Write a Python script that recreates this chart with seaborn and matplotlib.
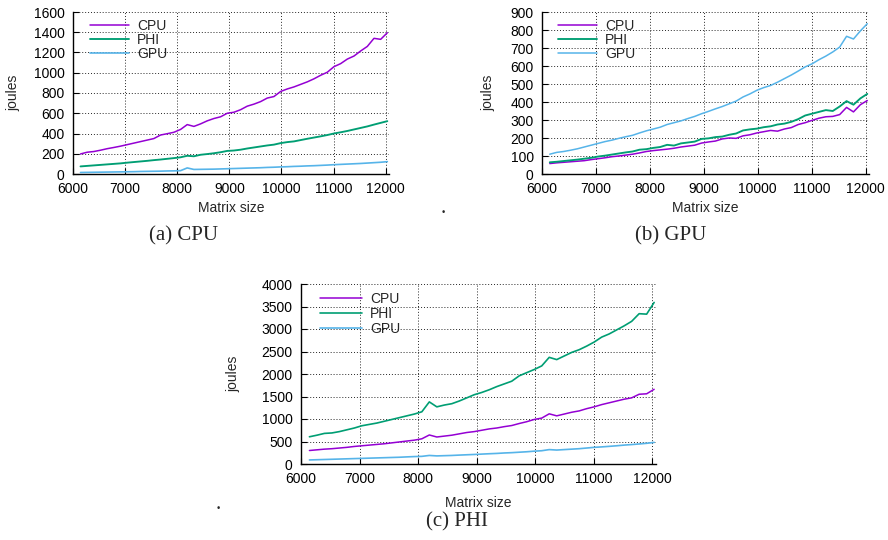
import matplotlib
matplotlib.use("Agg")
import matplotlib.pyplot as plt
import seaborn as sns

# ---------------- data (joules per matrix size) ----------------
SIZES = [6144, 6272, 6400, 6528, 6656, 6784, 6912, 7040, 7168, 7296, 7424, 7552,
         7680, 7808, 7936, 8064, 8192, 8320, 8448, 8576, 8704, 8832, 8960, 9088,
         9216, 9344, 9472, 9600, 9728, 9856, 9984, 10112, 10240, 10368, 10496,
         10624, 10752, 10880, 11008, 11136, 11264, 11392, 11520, 11648, 11776,
         11904, 12032]

# (a) run on CPU
A_CPU = [198, 215, 222, 235, 250, 262, 275, 290, 305, 320, 335, 350, 385, 398, 412, 440,
         488, 470, 495, 525, 548, 565, 600, 610, 635, 670, 690, 715, 750, 765, 815, 840,
         860, 885, 910, 940, 975, 1005, 1060, 1090, 1135, 1165, 1215, 1260, 1340, 1330, 1395]
A_PHI = [75, 80, 85, 90, 95, 100, 105, 112, 118, 124, 130, 137, 143, 150, 157, 165,
         180, 175, 190, 197, 205, 215, 228, 232, 240, 252, 262, 272, 282, 290, 305, 315,
         322, 335, 348, 360, 372, 385, 400, 412, 425, 440, 455, 470, 488, 505, 522]
A_GPU = [15, 16, 17, 18, 19, 20, 21, 22, 23, 25, 26, 27, 28, 30, 31, 33,
         60, 45, 46, 47, 48, 50, 52, 54, 56, 58, 60, 62, 65, 67, 70, 72,
         75, 77, 80, 82, 85, 88, 92, 95, 98, 101, 104, 108, 112, 116, 122]

# (b) run on GPU
B_CPU = [58, 62, 65, 68, 71, 74, 80, 85, 90, 96, 100, 105, 110, 117, 125, 130,
         134, 138, 143, 150, 155, 160, 172, 178, 183, 195, 200, 198, 212, 218, 228, 235,
         242, 238, 250, 258, 275, 285, 298, 310, 318, 320, 330, 370, 345, 385, 408]
B_PHI = [65, 68, 72, 76, 80, 85, 90, 97, 102, 108, 114, 120, 125, 135, 138, 145,
         150, 162, 158, 170, 175, 180, 195, 198, 205, 208, 218, 225, 242, 248, 252, 260,
         265, 275, 280, 290, 305, 325, 335, 345, 355, 350, 375, 405, 385, 420, 445]
B_GPU = [110, 120, 125, 132, 140, 150, 160, 170, 180, 188, 198, 207, 215, 228, 240, 250,
         260, 275, 285, 295, 308, 320, 335, 348, 362, 375, 390, 405, 428, 445, 465, 480,
         492, 510, 530, 550, 572, 595, 612, 635, 655, 678, 705, 765, 750, 795, 835]

# (c) run on PHI
C_CPU = [300, 315, 330, 340, 355, 370, 390, 405, 420, 435, 450, 470, 490, 510, 530, 560,
         645, 600, 620, 640, 670, 700, 720, 750, 780, 800, 830, 855, 900, 940, 990, 1020,
         1115, 1070, 1110, 1150, 1180, 1230, 1270, 1320, 1360, 1400, 1440, 1470, 1550, 1560, 1660]
C_PHI = [605, 640, 680, 690, 720, 760, 800, 850, 880, 910, 950, 990, 1030, 1070, 1110, 1160,
         1380, 1270, 1310, 1340, 1400, 1470, 1540, 1590, 1650, 1720, 1780, 1840, 1960, 2030, 2100, 2180,
         2370, 2320, 2400, 2480, 2540, 2620, 2710, 2820, 2890, 2980, 3070, 3170, 3340, 3330, 3590]
C_GPU = [90, 95, 100, 105, 110, 115, 120, 125, 130, 135, 140, 145, 150, 158, 165, 170,
         190, 180, 185, 190, 198, 205, 212, 220, 228, 235, 245, 252, 262, 272, 285, 295,
         320, 310, 320, 330, 340, 355, 370, 380, 392, 405, 420, 432, 445, 460, 480]

SERIES = ["CPU", "PHI", "GPU"]
X_TICKS = [6000, 7000, 8000, 9000, 10000, 11000, 12000]
CAPTIONS = ["(a) CPU", "(b) GPU", "(c) PHI"]

# ---------------- style ----------------
sns.set_style("white")
plt.rcParams['font.family'] = ['Liberation Sans', 'DejaVu Sans']
COLORS = {"CPU": "#9400D3", "PHI": "#009E73", "GPU": "#56B4E9"}

W, H = 888, 540
fig = plt.figure(figsize=(W / 100, H / 100), dpi=100)


def rect(l, r, t, b):
    return [l / W, 1 - b / H, (r - l) / W, (b - t) / H]


panels = [
    dict(rect=rect(73, 389, 12, 174), data=[A_CPU, A_PHI, A_GPU], ymax=1600, ystep=200,
         lw=[1.1, 1.35, 1.2], ylab_x=-0.19, xlab_y=-0.21, leg=(0.054, 0.955), hl=2.8, ls=0.0,
         cap=(184, 236)),
    dict(rect=rect(542, 869, 12, 174), data=[B_CPU, B_PHI, B_GPU], ymax=900, ystep=100,
         lw=[1.1, 1.35, 1.1], ylab_x=-0.165, xlab_y=-0.21, leg=(0.049, 0.955), hl=2.8, ls=0.0,
         cap=(671, 236)),
    dict(rect=rect(301, 656, 284, 464), data=[C_CPU, C_PHI, C_GPU], ymax=4000, ystep=500,
         lw=[1.1, 1.2, 1.2], ylab_x=-0.19, xlab_y=-0.217, leg=(0.054, 0.958), hl=3.0, ls=0.1,
         cap=(457, 522)),
]

for i, p in enumerate(panels):
    ax = fig.add_axes(p["rect"])
    for name, vals, lw in zip(SERIES, p["data"], p["lw"]):
        sns.lineplot(x=SIZES, y=vals, color=COLORS[name], linewidth=lw, label=name, ax=ax)
    ax.set_xlim(6000, 12064)
    ax.set_ylim(0, p["ymax"])
    ax.set_xticks(X_TICKS)
    ax.set_yticks(list(range(0, p["ymax"] + 1, p["ystep"])))
    ax.tick_params(direction="in", length=4, width=0.8, labelsize=10, pad=6,
                   colors="black", bottom=True, left=True)
    ax.grid(True, color="black", linestyle=(0, (1, 2)), linewidth=0.7, alpha=0.85)
    ax.set_axisbelow(True)
    for s in ["top", "right"]:
        ax.spines[s].set_visible(False)
    for s in ["left", "bottom"]:
        ax.spines[s].set_color("black")
        ax.spines[s].set_linewidth(1.0)
    ax.set_xlabel("Matrix size", fontsize=10)
    ax.set_ylabel("joules", fontsize=10)
    ax.xaxis.set_label_coords(0.5, p["xlab_y"])
    ax.xaxis.label.set_va("center")
    ax.yaxis.set_label_coords(p["ylab_x"], 0.5)
    ax.yaxis.label.set_va("center")
    ax.legend(loc="upper left", bbox_to_anchor=p["leg"], frameon=False, fontsize=10,
              handlelength=p["hl"], handletextpad=0.6, labelspacing=p["ls"],
              borderpad=0, borderaxespad=0)
    fig.text(p["cap"][0] / W, 1 - p["cap"][1] / H, CAPTIONS[i], ha="center", va="center",
             fontsize=15, family=["Liberation Serif", "DejaVu Serif"])

# stray periods present in the original layout
fig.text(443 / W, 1 - 213 / H, ".", ha="center", va="baseline", fontsize=15,
         family=["Liberation Serif", "DejaVu Serif"])
fig.text(218 / W, 1 - 509 / H, ".", ha="center", va="baseline", fontsize=15,
         family=["Liberation Serif", "DejaVu Serif"])

fig.savefig("out.png", dpi=100)
